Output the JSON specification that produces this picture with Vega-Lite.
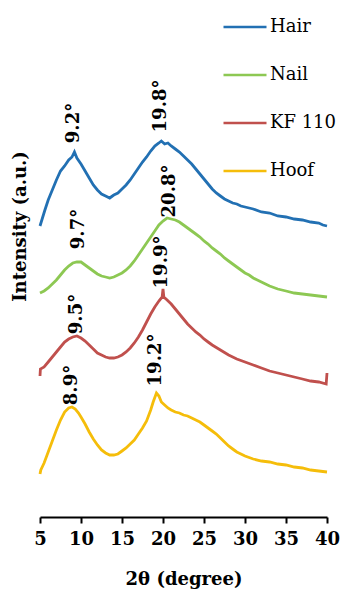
{
  "$schema": "https://vega.github.io/schema/vega-lite/v6.json",
  "width": 287,
  "height": 517,
  "autosize": {"type": "none"},
  "padding": {"left": 40, "top": 0, "right": 13, "bottom": 73},
  "background": "white",
  "config": {"view": {"stroke": null}},
  "datasets": {
    "xrd": [
      {"s":"Hair","t":5.0,"i":291},{"s":"Hair","t":5.3,"i":299},{"s":"Hair","t":5.6,"i":307},{"s":"Hair","t":6.0,"i":317},{"s":"Hair","t":6.5,"i":327},{"s":"Hair","t":7.0,"i":337},{"s":"Hair","t":7.5,"i":346},{"s":"Hair","t":8.0,"i":351},{"s":"Hair","t":8.5,"i":357},{"s":"Hair","t":8.9,"i":360},{"s":"Hair","t":9.2,"i":365},{"s":"Hair","t":9.5,"i":359},{"s":"Hair","t":10.0,"i":353},{"s":"Hair","t":10.5,"i":346},{"s":"Hair","t":11.0,"i":339},{"s":"Hair","t":11.5,"i":332},{"s":"Hair","t":12.0,"i":327},{"s":"Hair","t":12.5,"i":323},{"s":"Hair","t":13.0,"i":321},{"s":"Hair","t":13.5,"i":319},{"s":"Hair","t":14.0,"i":322},{"s":"Hair","t":14.5,"i":324},{"s":"Hair","t":15.0,"i":328},{"s":"Hair","t":15.5,"i":332},{"s":"Hair","t":16.0,"i":337},{"s":"Hair","t":16.5,"i":343},{"s":"Hair","t":17.0,"i":349},{"s":"Hair","t":17.5,"i":355},{"s":"Hair","t":18.0,"i":360},{"s":"Hair","t":18.5,"i":366},{"s":"Hair","t":19.0,"i":371},{"s":"Hair","t":19.5,"i":374},{"s":"Hair","t":19.8,"i":376},{"s":"Hair","t":20.2,"i":373},{"s":"Hair","t":20.6,"i":374},{"s":"Hair","t":21.0,"i":371},{"s":"Hair","t":21.5,"i":368},{"s":"Hair","t":22.0,"i":365},{"s":"Hair","t":22.5,"i":361},{"s":"Hair","t":23.0,"i":357},{"s":"Hair","t":23.5,"i":353},{"s":"Hair","t":24.0,"i":348},{"s":"Hair","t":24.5,"i":343},{"s":"Hair","t":25.0,"i":338},{"s":"Hair","t":25.5,"i":333},{"s":"Hair","t":26.0,"i":328},{"s":"Hair","t":26.5,"i":324},{"s":"Hair","t":27.0,"i":321},{"s":"Hair","t":27.5,"i":318},{"s":"Hair","t":28.0,"i":316},{"s":"Hair","t":28.5,"i":314},{"s":"Hair","t":29.0,"i":313},{"s":"Hair","t":29.5,"i":311},{"s":"Hair","t":30.0,"i":310},{"s":"Hair","t":31.0,"i":308},{"s":"Hair","t":32.0,"i":305},{"s":"Hair","t":33.0,"i":304},{"s":"Hair","t":34.0,"i":301},{"s":"Hair","t":35.0,"i":300},{"s":"Hair","t":36.0,"i":298},{"s":"Hair","t":37.0,"i":297},{"s":"Hair","t":38.0,"i":295},{"s":"Hair","t":39.0,"i":294},{"s":"Hair","t":39.5,"i":292},{"s":"Hair","t":40.0,"i":291},
      {"s":"Nail","t":5.0,"i":224},{"s":"Nail","t":5.5,"i":226},{"s":"Nail","t":6.0,"i":229},{"s":"Nail","t":6.5,"i":233},{"s":"Nail","t":7.0,"i":237},{"s":"Nail","t":7.5,"i":242},{"s":"Nail","t":8.0,"i":247},{"s":"Nail","t":8.5,"i":251},{"s":"Nail","t":9.0,"i":254},{"s":"Nail","t":9.5,"i":255},{"s":"Nail","t":10.0,"i":255},{"s":"Nail","t":10.5,"i":252},{"s":"Nail","t":11.0,"i":249},{"s":"Nail","t":11.5,"i":246},{"s":"Nail","t":12.0,"i":243},{"s":"Nail","t":12.5,"i":241},{"s":"Nail","t":13.0,"i":240},{"s":"Nail","t":13.5,"i":239},{"s":"Nail","t":14.0,"i":240},{"s":"Nail","t":14.5,"i":242},{"s":"Nail","t":15.0,"i":244},{"s":"Nail","t":15.5,"i":247},{"s":"Nail","t":16.0,"i":251},{"s":"Nail","t":16.5,"i":256},{"s":"Nail","t":17.0,"i":262},{"s":"Nail","t":17.5,"i":268},{"s":"Nail","t":18.0,"i":274},{"s":"Nail","t":18.5,"i":280},{"s":"Nail","t":19.0,"i":286},{"s":"Nail","t":19.5,"i":292},{"s":"Nail","t":20.0,"i":296},{"s":"Nail","t":20.5,"i":299},{"s":"Nail","t":21.0,"i":298},{"s":"Nail","t":21.5,"i":297},{"s":"Nail","t":22.0,"i":295},{"s":"Nail","t":22.5,"i":292},{"s":"Nail","t":23.0,"i":289},{"s":"Nail","t":23.5,"i":286},{"s":"Nail","t":24.0,"i":283},{"s":"Nail","t":24.5,"i":280},{"s":"Nail","t":25.0,"i":276},{"s":"Nail","t":25.5,"i":273},{"s":"Nail","t":26.0,"i":269},{"s":"Nail","t":26.5,"i":266},{"s":"Nail","t":27.0,"i":263},{"s":"Nail","t":27.5,"i":259},{"s":"Nail","t":28.0,"i":256},{"s":"Nail","t":28.5,"i":253},{"s":"Nail","t":29.0,"i":250},{"s":"Nail","t":29.5,"i":247},{"s":"Nail","t":30.0,"i":244},{"s":"Nail","t":30.5,"i":242},{"s":"Nail","t":31.0,"i":239},{"s":"Nail","t":31.5,"i":237},{"s":"Nail","t":32.0,"i":235},{"s":"Nail","t":32.5,"i":233},{"s":"Nail","t":33.0,"i":231},{"s":"Nail","t":34.0,"i":228},{"s":"Nail","t":35.0,"i":226},{"s":"Nail","t":36.0,"i":224},{"s":"Nail","t":37.0,"i":223},{"s":"Nail","t":38.0,"i":222},{"s":"Nail","t":39.0,"i":221},{"s":"Nail","t":40.0,"i":220},
      {"s":"KF 110","t":5.0,"i":141},{"s":"KF 110","t":5.05,"i":148},{"s":"KF 110","t":5.5,"i":150},{"s":"KF 110","t":6.0,"i":155},{"s":"KF 110","t":6.5,"i":160},{"s":"KF 110","t":7.0,"i":165},{"s":"KF 110","t":7.5,"i":170},{"s":"KF 110","t":8.0,"i":175},{"s":"KF 110","t":8.5,"i":178},{"s":"KF 110","t":9.0,"i":180},{"s":"KF 110","t":9.5,"i":181},{"s":"KF 110","t":10.0,"i":179},{"s":"KF 110","t":10.5,"i":176},{"s":"KF 110","t":11.0,"i":172},{"s":"KF 110","t":11.5,"i":168},{"s":"KF 110","t":12.0,"i":164},{"s":"KF 110","t":12.5,"i":162},{"s":"KF 110","t":13.0,"i":160},{"s":"KF 110","t":13.5,"i":159},{"s":"KF 110","t":14.0,"i":159},{"s":"KF 110","t":14.5,"i":160},{"s":"KF 110","t":15.0,"i":162},{"s":"KF 110","t":15.5,"i":165},{"s":"KF 110","t":16.0,"i":169},{"s":"KF 110","t":16.5,"i":174},{"s":"KF 110","t":17.0,"i":180},{"s":"KF 110","t":17.5,"i":187},{"s":"KF 110","t":18.0,"i":195},{"s":"KF 110","t":18.5,"i":203},{"s":"KF 110","t":19.0,"i":210},{"s":"KF 110","t":19.5,"i":216},{"s":"KF 110","t":19.9,"i":220},{"s":"KF 110","t":20.0,"i":228},{"s":"KF 110","t":20.1,"i":220},{"s":"KF 110","t":20.5,"i":217},{"s":"KF 110","t":21.0,"i":213},{"s":"KF 110","t":21.5,"i":208},{"s":"KF 110","t":22.0,"i":203},{"s":"KF 110","t":22.5,"i":198},{"s":"KF 110","t":23.0,"i":193},{"s":"KF 110","t":23.5,"i":189},{"s":"KF 110","t":24.0,"i":185},{"s":"KF 110","t":24.5,"i":182},{"s":"KF 110","t":25.0,"i":178},{"s":"KF 110","t":25.5,"i":175},{"s":"KF 110","t":26.0,"i":172},{"s":"KF 110","t":27.0,"i":167},{"s":"KF 110","t":28.0,"i":162},{"s":"KF 110","t":29.0,"i":158},{"s":"KF 110","t":30.0,"i":155},{"s":"KF 110","t":31.0,"i":152},{"s":"KF 110","t":32.0,"i":149},{"s":"KF 110","t":33.0,"i":146},{"s":"KF 110","t":34.0,"i":144},{"s":"KF 110","t":35.0,"i":142},{"s":"KF 110","t":36.0,"i":140},{"s":"KF 110","t":37.0,"i":138},{"s":"KF 110","t":38.0,"i":136},{"s":"KF 110","t":39.0,"i":135},{"s":"KF 110","t":39.9,"i":133},{"s":"KF 110","t":40.0,"i":144},
      {"s":"Hoof","t":5.0,"i":43},{"s":"Hoof","t":5.1,"i":47},{"s":"Hoof","t":5.5,"i":54},{"s":"Hoof","t":6.0,"i":65},{"s":"Hoof","t":6.5,"i":76},{"s":"Hoof","t":7.0,"i":87},{"s":"Hoof","t":7.5,"i":97},{"s":"Hoof","t":8.0,"i":105},{"s":"Hoof","t":8.5,"i":109},{"s":"Hoof","t":8.9,"i":110},{"s":"Hoof","t":9.3,"i":108},{"s":"Hoof","t":9.7,"i":104},{"s":"Hoof","t":10.0,"i":100},{"s":"Hoof","t":10.5,"i":93},{"s":"Hoof","t":11.0,"i":85},{"s":"Hoof","t":11.5,"i":78},{"s":"Hoof","t":12.0,"i":72},{"s":"Hoof","t":12.5,"i":67},{"s":"Hoof","t":13.0,"i":64},{"s":"Hoof","t":13.5,"i":62},{"s":"Hoof","t":14.0,"i":62},{"s":"Hoof","t":14.5,"i":63},{"s":"Hoof","t":15.0,"i":66},{"s":"Hoof","t":15.5,"i":69},{"s":"Hoof","t":16.0,"i":73},{"s":"Hoof","t":16.5,"i":77},{"s":"Hoof","t":17.0,"i":83},{"s":"Hoof","t":17.5,"i":89},{"s":"Hoof","t":18.0,"i":96},{"s":"Hoof","t":18.5,"i":107},{"s":"Hoof","t":18.8,"i":115},{"s":"Hoof","t":19.2,"i":124},{"s":"Hoof","t":19.5,"i":121},{"s":"Hoof","t":19.8,"i":115},{"s":"Hoof","t":20.2,"i":112},{"s":"Hoof","t":20.6,"i":109},{"s":"Hoof","t":21.0,"i":107},{"s":"Hoof","t":21.5,"i":105},{"s":"Hoof","t":22.0,"i":104},{"s":"Hoof","t":22.5,"i":102},{"s":"Hoof","t":23.0,"i":101},{"s":"Hoof","t":23.5,"i":99},{"s":"Hoof","t":24.0,"i":97},{"s":"Hoof","t":24.5,"i":95},{"s":"Hoof","t":25.0,"i":92},{"s":"Hoof","t":25.5,"i":89},{"s":"Hoof","t":26.0,"i":86},{"s":"Hoof","t":26.5,"i":83},{"s":"Hoof","t":27.0,"i":79},{"s":"Hoof","t":27.5,"i":75},{"s":"Hoof","t":28.0,"i":71},{"s":"Hoof","t":28.5,"i":68},{"s":"Hoof","t":29.0,"i":65},{"s":"Hoof","t":29.5,"i":63},{"s":"Hoof","t":30.0,"i":61},{"s":"Hoof","t":31.0,"i":58},{"s":"Hoof","t":32.0,"i":56},{"s":"Hoof","t":33.0,"i":55},{"s":"Hoof","t":34.0,"i":53},{"s":"Hoof","t":35.0,"i":52},{"s":"Hoof","t":36.0,"i":50},{"s":"Hoof","t":37.0,"i":49},{"s":"Hoof","t":38.0,"i":47},{"s":"Hoof","t":39.0,"i":46},{"s":"Hoof","t":40.0,"i":45}
    ],
    "peaks": [
      {"label":"9.2°","t":9.2,"i":394},
      {"label":"19.8°","t":19.8,"i":411},
      {"label":"9.7°","t":9.7,"i":288},
      {"label":"20.8°","t":20.8,"i":326},
      {"label":"9.5°","t":9.5,"i":203},
      {"label":"19.9°","t":19.9,"i":255},
      {"label":"8.9°","t":8.9,"i":132},
      {"label":"19.2°","t":19.2,"i":157}
    ]
  },
  "layer": [
    {
      "data": {"name": "xrd"},
      "mark": {"type": "line", "strokeWidth": 2.8, "interpolate": "linear"},
      "encoding": {
        "x": {
          "field": "t", "type": "quantitative",
          "scale": {"domain": [5, 40], "nice": false, "zero": false},
          "axis": {
            "title": "2θ (degree)",
            "values": [5, 10, 15, 20, 25, 30, 35, 40],
            "grid": false,
            "domainColor": "black", "domainWidth": 2,
            "tickColor": "black", "tickWidth": 2, "tickSize": 6,
            "labelFont": "DejaVu Serif", "labelFontWeight": "bold", "labelFontSize": 18, "labelColor": "black", "labelPadding": 7,
            "labelFlush": false, "labelOverlap": false,
            "titleFont": "DejaVu Serif", "titleFontWeight": "bold", "titleFontSize": 18, "titleColor": "black", "titlePadding": 22
          }
        },
        "y": {
          "field": "i", "type": "quantitative",
          "scale": {"domain": [0, 517], "nice": false},
          "axis": {
            "title": "Intensity (a.u.)",
            "labels": false, "ticks": false, "domain": false, "grid": false,
            "titleFont": "DejaVu Serif", "titleFontWeight": "bold", "titleFontSize": 18, "titleColor": "black",
            "titleX": -20, "titleY": 226, "titleAngle": 270, "titleAlign": "center", "titleBaseline": "middle"
          }
        },
        "color": {
          "field": "s", "type": "nominal",
          "scale": {"domain": ["Hair", "Nail", "KF 110", "Hoof"], "range": ["#2270b3", "#8dc853", "#c0504d", "#f5bd0a"]},
          "legend": {
            "title": null, "orient": "none", "legendX": 182, "legendY": 4,
            "symbolType": "stroke", "symbolSize": 1849, "symbolStrokeWidth": 2.5,
            "labelFont": "DejaVu Serif", "labelFontSize": 18, "labelColor": "black", "labelOffset": 2,
            "rowPadding": 16
          }
        }
      }
    },
    {
      "data": {"name": "peaks"},
      "mark": {"type": "text", "angle": 270, "align": "center", "baseline": "middle", "font": "DejaVu Serif", "fontWeight": "bold", "fontSize": 18, "color": "black"},
      "encoding": {
        "x": {"field": "t", "type": "quantitative"},
        "y": {"field": "i", "type": "quantitative"},
        "text": {"field": "label", "type": "nominal"}
      }
    }
  ]
}
